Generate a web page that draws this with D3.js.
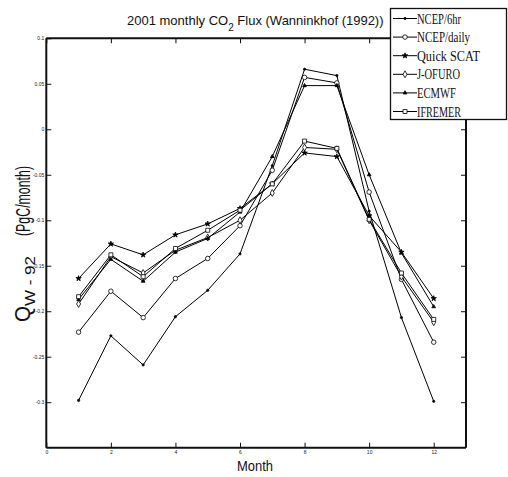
<!DOCTYPE html>
<html>
<head>
<meta charset="utf-8">
<script src="https://cdn.jsdelivr.net/npm/d3@7"></script>
<style>
  body { margin: 0; background: #fff; }
  svg { display: block; }
</style>
</head>
<body>
<svg id="chart" width="508" height="477"></svg>
<script>
// monthly flux values, PgC/month
const months = [1, 2, 3, 4, 5, 6, 7, 8, 9, 10, 11, 12];
const ncep6hr = [-0.298, -0.227, -0.259, -0.206, -0.177, -0.137, -0.040, 0.066, 0.059, -0.090, -0.207, -0.299];
const ncepDaily = [-0.223, -0.178, -0.207, -0.164, -0.142, -0.106, -0.045, 0.057, 0.051, -0.069, -0.165, -0.234];
const quickScat = [-0.164, -0.126, -0.138, -0.116, -0.104, -0.087, -0.060, -0.026, -0.030, -0.095, -0.135, -0.186];
const jofuro = [-0.192, -0.140, -0.158, -0.133, -0.119, -0.100, -0.070, -0.020, -0.022, -0.100, -0.162, -0.212];
const ecmwf = [-0.187, -0.143, -0.167, -0.135, -0.120, -0.091, -0.030, 0.048, 0.048, -0.050, -0.136, -0.195];
const ifremer = [-0.184, -0.138, -0.162, -0.131, -0.111, -0.089, -0.060, -0.013, -0.021, -0.099, -0.158, -0.209];

const seriesNames = ["NCEP/6hr", "NCEP/daily", "Quick SCAT", "J-OFURO", "ECMWF", "IFREMER"];
const seriesValues = [ncep6hr, ncepDaily, quickScat, jofuro, ecmwf, ifremer];

const xTicks = [0, 2, 4, 6, 8, 10, 12];
const yTicks = [0.1, 0.05, 0, -0.05, -0.1, -0.15, -0.2, -0.25, -0.3];
const yTickLabels = ["0.1", "0.05", "0", "-0.05", "-0.1", "-0.15", "-0.2", "-0.25", "-0.3"];

const svg = d3.select("#chart");
const sans = "'Liberation Sans', Arial, sans-serif";
const serif = "'Liberation Serif', 'Times New Roman', serif";

const x = d3.scaleLinear().domain([0, 13]).range([46.3, 466]);
const y = d3.scaleLinear().domain([-0.35, 0.1]).range([447.7, 38.3]);

// marker per series, following the legend
const markers = [
  { type: d3.symbolCircle, size: 4, fill: "#000" },
  { type: d3.symbolCircle, size: 16, fill: "#fff" },
  { type: d3.symbolStar, size: 9, fill: "#000" },
  { type: d3.symbolDiamond, size: 14, fill: "#fff" },
  { type: d3.symbolTriangle, size: 6, fill: "#000" },
  { type: d3.symbolSquare, size: 16, fill: "#fff" },
];

// axes: ticks inside on all four sides
const tickLen = 5;
const axisB = d3.axisBottom(x).tickValues(xTicks).tickSize(-tickLen).tickPadding(3)
  .tickFormat(d3.format("d"));
const axisT = d3.axisTop(x).tickValues(xTicks).tickSize(-tickLen).tickFormat("");
const axisL = d3.axisLeft(y).tickValues(yTicks).tickSize(-tickLen).tickPadding(2)
  .tickFormat((d, i) => yTickLabels[i]);
const axisR = d3.axisRight(y).tickValues(yTicks).tickSize(-tickLen).tickFormat("");

function styleAxis(g) {
  g.select(".domain").attr("stroke-width", 2).attr("stroke", "#111");
  g.selectAll(".tick line").attr("stroke", "#111").attr("stroke-width", 1);
  g.selectAll(".tick text").attr("font-family", sans).attr("font-size", 5).attr("fill", "#222");
}

svg.append("g").attr("transform", `translate(0,${y(-0.35)})`).call(axisB).call(styleAxis)
  .call(g => g.select(".domain").attr("d", `M${x(0)},0H${x(13)}`));
svg.append("g").attr("transform", `translate(0,${y(0.1)})`).call(axisT).call(styleAxis)
  .call(g => g.select(".domain").attr("d", `M${x(0)},0H${x(13)}`));
svg.append("g").attr("transform", `translate(${x(0)},0)`).call(axisL).call(styleAxis)
  .call(g => g.select(".domain").attr("d", `M0,${y(0.1)}V${y(-0.35)}`));
svg.append("g").attr("transform", `translate(${x(13)},0)`).call(axisR).call(styleAxis)
  .call(g => g.select(".domain").attr("d", `M0,${y(0.1)}V${y(-0.35)}`));

// series lines and markers
const line = d3.line().x((d, i) => x(months[i])).y(d => y(d));

seriesValues.forEach((vals, k) => {
  svg.append("path")
    .attr("d", line(vals))
    .attr("fill", "none")
    .attr("stroke", "#000")
    .attr("stroke-width", 1);
  const m = markers[k];
  svg.append("g").selectAll("path")
    .data(vals)
    .join("path")
    .attr("transform", (d, i) => `translate(${x(months[i])},${y(d)})`)
    .attr("d", d3.symbol().type(m.type).size(m.size))
    .attr("fill", m.fill)
    .attr("stroke", "#000")
    .attr("stroke-width", 0.8);
});

// title
const title = svg.append("text")
  .attr("x", 127).attr("y", 25)
  .attr("font-family", sans).attr("font-size", 13).attr("fill", "#111");
title.append("tspan").text("2001 monthly CO");
title.append("tspan").attr("dy", 6).attr("font-size", 10).text("2");
title.append("tspan").attr("dy", -6).text(" Flux (Wanninkhof (1992))");

// x label
svg.append("text")
  .attr("x", 255).attr("y", 471)
  .attr("text-anchor", "middle")
  .attr("font-family", sans).attr("font-size", 14).attr("fill", "#111")
  .attr("textLength", 36).attr("lengthAdjust", "spacingAndGlyphs")
  .text("Month");

// y label, drawn in pieces along the rotated baseline
function rotated(tx, ty, size, len, txt) {
  svg.append("text")
    .attr("transform", `translate(${tx},${ty}) rotate(-90)`)
    .attr("font-family", sans).attr("font-size", size).attr("fill", "#111")
    .attr("textLength", len).attr("lengthAdjust", "spacingAndGlyphs")
    .text(txt);
}
rotated(30, 322, 22, 16, "Q");
rotated(35, 306, 14, 50, "W - 92");
rotated(30, 236, 21, 70, "(PgC/month)");

// legend
const lg = svg.append("g");
lg.append("rect")
  .attr("x", 390.5).attr("y", 8.5).attr("width", 116).attr("height", 111)
  .attr("fill", "#fff").attr("stroke", "#111").attr("stroke-width", 1.3);
const legendLen = [44, 53, 63, 43, 39, 44];
seriesNames.forEach((name, k) => {
  const ly = 18.5 + k * 18.6;
  lg.append("line")
    .attr("x1", 393).attr("x2", 417).attr("y1", ly).attr("y2", ly)
    .attr("stroke", "#000").attr("stroke-width", 1);
  const m = markers[k];
  lg.append("path")
    .attr("transform", `translate(405,${ly})`)
    .attr("d", d3.symbol().type(m.type).size(m.size))
    .attr("fill", m.fill).attr("stroke", "#000").attr("stroke-width", 0.8);
  lg.append("text")
    .attr("x", 417).attr("y", ly + 5)
    .attr("font-family", serif).attr("font-size", 15.5).attr("fill", "#111")
    .attr("textLength", legendLen[k]).attr("lengthAdjust", "spacingAndGlyphs")
    .text(name);
});
</script>
</body>
</html>
